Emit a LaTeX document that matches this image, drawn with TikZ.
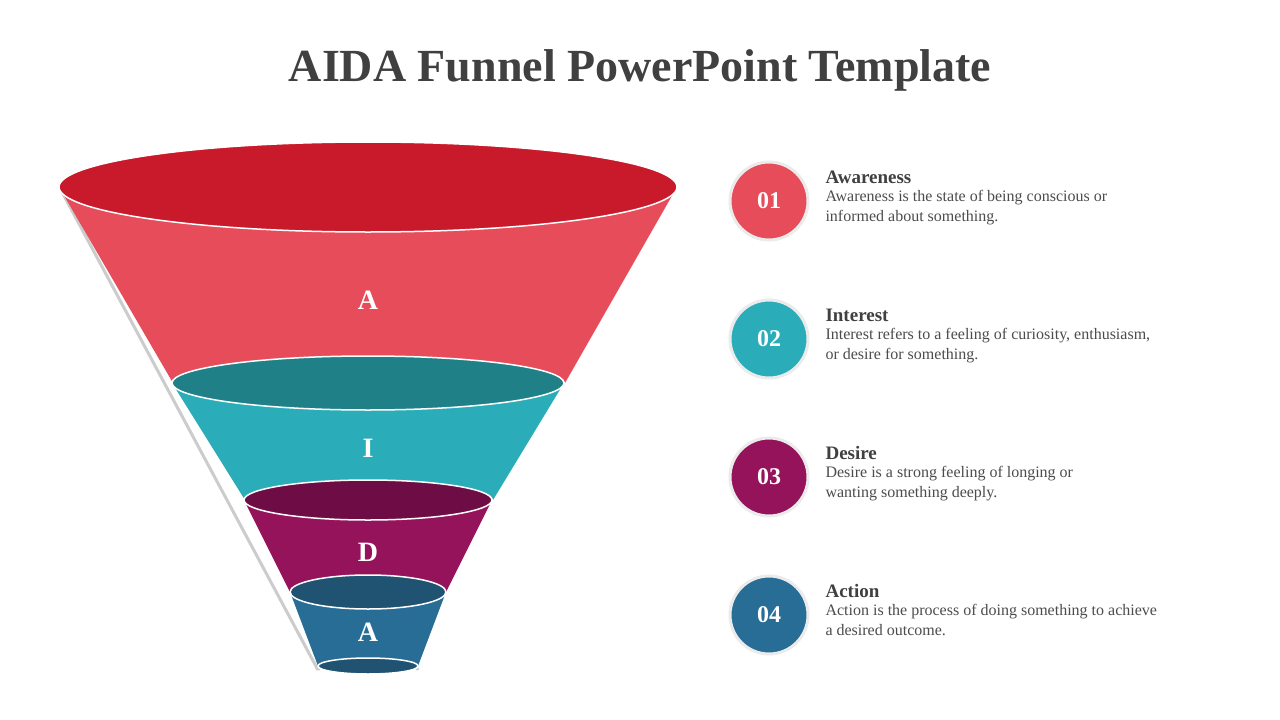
\documentclass[tikz,border=0pt]{standalone}
\usepackage{fontspec}
\setmainfont{Liberation Serif}
\begin{document}
\begin{tikzpicture}[x=1pt,y=-1pt,
 lbl/.style={text=white,font=\bfseries\fontsize{28}{30}\selectfont},
 num/.style={circle,minimum size=78pt,draw=black!8,line width=3pt,text=white,font=\bfseries\fontsize{24}{26}\selectfont},
 head/.style={anchor=west,text=black!75,font=\bfseries\fontsize{19}{21}\selectfont},
 body/.style={anchor=north west,text=black!70,align=left,font=\fontsize{16}{20}\selectfont}]
\definecolor{r1}{HTML}{C81A2A}\definecolor{r2}{HTML}{E64C5A}
\definecolor{t1}{HTML}{1F8088}\definecolor{t2}{HTML}{2BADB9}
\definecolor{p1}{HTML}{6E0D45}\definecolor{p2}{HTML}{94135A}
\definecolor{b1}{HTML}{1F5371}\definecolor{b2}{HTML}{286D96}
\useasboundingbox[fill=white] (0,0) rectangle (1280,720);
\node[text=black!75,font=\bfseries\fontsize{46}{50}\selectfont] (title) at (640,70) {AIDA Funnel PowerPoint Template};
% shadow
\draw[black!20,line width=3pt] (62,192) -- (318,670) (318,670) arc[start angle=180,end angle=360,x radius=50,y radius=9];
% bodies and ellipses
\fill[r2] (59,187) -- (173,383) arc[start angle=180,end angle=360,x radius=196,y radius=27] -- (677,187) -- cycle;
\filldraw[r1,draw=white,line width=1.5pt] (368,187) ellipse[x radius=309,y radius=45];
\fill[t2] (172,383) -- (245,500) arc[start angle=180,end angle=360,x radius=124,y radius=20] -- (564,383) -- cycle;
\filldraw[t1,draw=white,line width=1.5pt] (368,383) ellipse[x radius=196,y radius=27];
\fill[p2] (244,500) -- (290,592) arc[start angle=180,end angle=360,x radius=78,y radius=17] -- (492,500) -- cycle;
\filldraw[p1,draw=white,line width=1.5pt] (368,500) ellipse[x radius=124,y radius=20];
\fill[b2] (290,592) -- (318,666) arc[start angle=180,end angle=360,x radius=50,y radius=8] -- (446,592) -- cycle;
\filldraw[b1,draw=white,line width=1.5pt] (368,592) ellipse[x radius=78,y radius=17];
\filldraw[b1,draw=white,line width=1.5pt] (368,666) ellipse[x radius=50,y radius=8];
\node[lbl] (la) at (368,300) {A};
\node[lbl] (li) at (368,448) {I};
\node[lbl] (ld) at (368,552) {D};
\node[lbl] (lb) at (368,632) {A};
% list
\foreach \y/\c/\n/\h/\t in {201/r2/01/Awareness/{Awareness is the state of being conscious or\\informed about something.},
 339/t2/02/Interest/{Interest refers to a feeling of curiosity, enthusiasm,\\or desire for something.},
 477/p2/03/Desire/{Desire is a strong feeling of longing or\\wanting something deeply.},
 615/b2/04/Action/{Action is the process of doing something to achieve\\a desired outcome.}}{
 \node[num,fill=\c] (n\n) at (769,\y) {\n};
 \node[head] (h\n) at (822,\y-24) {\h};
 \node[body] (b\n) at (822,\y-14) {\t};
}
\end{tikzpicture}
\end{document}
